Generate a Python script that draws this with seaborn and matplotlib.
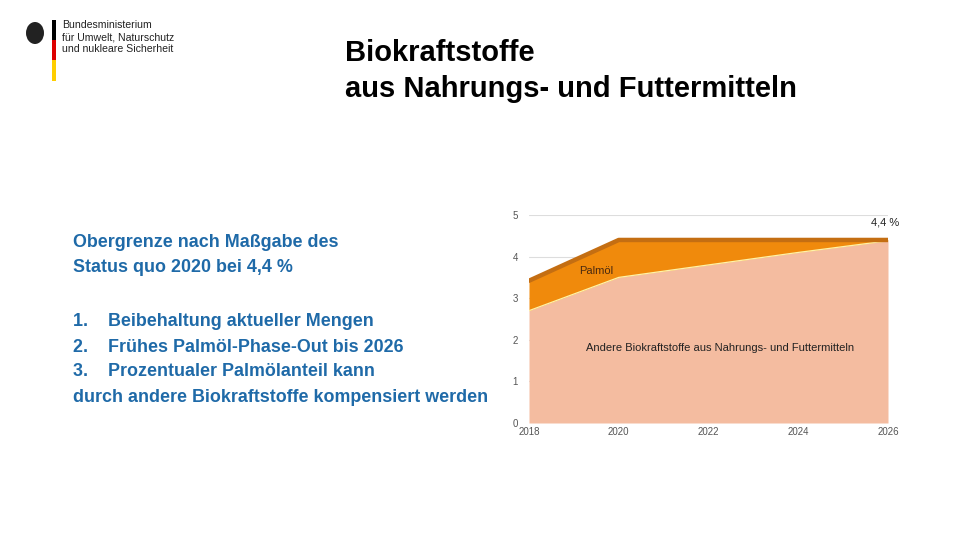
import matplotlib
matplotlib.use("Agg")
import matplotlib.pyplot as plt
import matplotlib.patches as mpatches
import seaborn as sns
import numpy as np
import pandas as pd

years = [2018, 2020, 2022, 2024, 2026]
andere = [2.7, 3.5, 3.8, 4.1, 4.38]
palmoel = [0.72, 0.9, 0.6, 0.3, 0.02]
y_ticks = [0, 1, 2, 3, 4, 5]
x_ticks = [2018, 2020, 2022, 2024, 2026]

title_text = "Biokraftstoffe\naus Nahrungs- und Futtermitteln"
lead_text = "Obergrenze nach Maßgabe des\nStatus quo 2020 bei 4,4 %"
list_items = ["1.    Beibehaltung aktueller Mengen",
              "2.    Frühes Palmöl-Phase-Out bis 2026",
              "3.    Prozentualer Palmölanteil kann",
              "durch andere Biokraftstoffe kompensiert werden"]
logo_lines = "Bundesministerium\nfür Umwelt, Naturschutz\nund nukleare Sicherheit"

sns.set_theme(style="white")
plt.rcParams['font.family'] = ['Liberation Sans', 'DejaVu Sans']

df = pd.DataFrame({"year": years, "andere": andere, "palm": palmoel})
df["total"] = df["andere"] + df["palm"]

fig = plt.figure(figsize=(9.6, 5.4), dpi=100)
ax = fig.add_axes([529/960, 1-423/540, (888-529)/960, (423-215)/540])

for t in y_ticks[1:]:
    ax.axhline(t, color="#dddddd", lw=0.8, zorder=0)

ax.fill_between(df["year"], 0, df["andere"], color="#F4BCA0", lw=0, zorder=1)
ax.fill_between(df["year"], df["andere"], df["total"], color="#F08A0C", lw=0, zorder=1)
sns.lineplot(data=df, x="year", y="andere", ax=ax, color="#FFF2A8", lw=0.9, zorder=2)
sns.lineplot(data=df, x="year", y="total", ax=ax, color="#C46E12", lw=3.2, zorder=3)

ax.set_xlim(2018, 2026)
ax.set_ylim(0, 5)
ax.set_xticks(x_ticks)
ax.set_yticks(y_ticks)
ax.set_xlabel("")
ax.set_ylabel("")
ax.tick_params(axis="both", labelsize=7, colors="#555555", length=0, pad=3)
ax.tick_params(axis="y", pad=8)
for s in ax.spines.values():
    s.set_visible(False)

ax.text(2019.5, 3.65, "Palmöl", fontsize=8, color="#4a2a10", ha="center", va="center", zorder=4)
ax.text(2022.25, 1.8, "Andere Biokraftstoffe aus Nahrungs- und Futtermitteln",
        fontsize=8, color="#222222", ha="center", va="center", zorder=4)
ax.text(2026.25, 4.83, "4,4 %", fontsize=8, color="#222222", ha="right", va="center",
        clip_on=False)

fig.text(345/960, 1-71/540, title_text, fontsize=21, fontweight="bold", color="black",
         ha="left", va="center", linespacing=1.33)
fig.text(73/960, 1-255/540, lead_text, fontsize=12.9, fontweight="bold", color="#1F6AA8",
         ha="left", va="center", linespacing=1.6)
ys = [321, 347, 372, 398]
for txt, yy in zip(list_items, ys):
    fig.text(73/960, 1-yy/540, txt, fontsize=12.9, fontweight="bold", color="#1F6AA8",
             ha="left", va="center")

# logo
bar_x = 52/960
bw = 4/960
for (y0, y1, c) in [(20, 40, "#000000"), (40, 60, "#DD0000"), (60, 81, "#FFCE00")]:
    fig.add_artist(mpatches.Rectangle((bar_x, 1-y1/540), bw, (y1-y0)/540,
                                      transform=fig.transFigure, color=c, lw=0))
fig.add_artist(mpatches.Ellipse((35/960, 1-33/540), 18/960, 22/540,
                                transform=fig.transFigure, color="#222222", lw=0))
fig.text(62/960, 1-37/540, logo_lines, fontsize=7.6, color="#222222", ha="left",
         va="center", linespacing=1.3)

fig.savefig("out.png", dpi=100)
